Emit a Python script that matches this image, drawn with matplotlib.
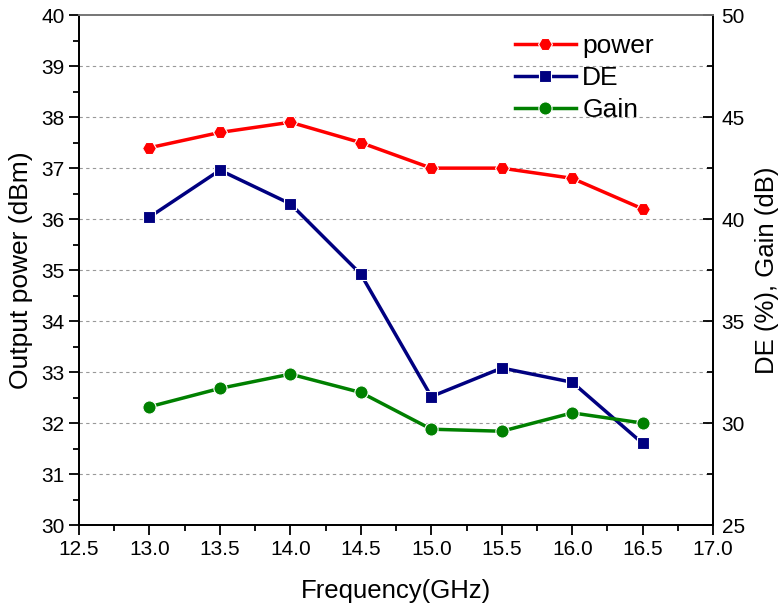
import numpy as np
import matplotlib
matplotlib.use('Agg')
import matplotlib.pyplot as plt
from matplotlib.ticker import MultipleLocator
from matplotlib.lines import Line2D

plt.rcParams['font.family'] = ['Liberation Sans', 'DejaVu Sans']

# data
freq = [13.0, 13.5, 14.0, 14.5, 15.0, 15.5, 16.0, 16.5]
power = [37.4, 37.7, 37.9, 37.5, 37.0, 37.0, 36.8, 36.2]
de = [40.1, 42.4, 40.75, 37.3, 31.3, 32.7, 32.0, 29.0]
gain = [30.8, 31.7, 32.4, 31.5, 29.7, 29.6, 30.5, 30.0]

fig = plt.figure(figsize=(7.82, 6.07), dpi=100)
ax = fig.add_axes([0.101, 0.135, 0.811, 0.84])
ax2 = ax.twinx()

# grid on left axis major ticks
for yv in range(31, 40):
    ax.axhline(yv, color='#999999', ls=(0, (3, 3)), lw=0.8, zorder=0)

mk = dict(markeredgecolor='white', markeredgewidth=0.8, lw=2.5)
ax.plot(freq, power, '-', color='#ff0000', marker='H', markersize=10, **mk, zorder=3)
ax2.plot(freq, de, '-', color='#000080', marker='s', markersize=8.5, **mk, zorder=3)
ax2.plot(freq, gain, '-', color='#008000', marker='o', markersize=9.5, **mk, zorder=3)

ax.set_xlim(12.5, 17.0)
ax.set_ylim(30, 40)
ax2.set_ylim(25, 50)

ax.xaxis.set_major_locator(MultipleLocator(0.5))
ax.xaxis.set_minor_locator(MultipleLocator(0.25))
ax.yaxis.set_major_locator(MultipleLocator(1))
ax.yaxis.set_minor_locator(MultipleLocator(0.5))
ax2.yaxis.set_major_locator(MultipleLocator(5))
ax2.yaxis.set_minor_locator(MultipleLocator(2.5))
ax.xaxis.set_major_formatter(plt.FormatStrFormatter('%.1f'))

ax.tick_params(axis='both', which='major', direction='out', length=7, width=1.3, labelsize=15)
ax.tick_params(axis='both', which='minor', direction='out', length=4, width=1.3)
ax.tick_params(axis='y', right=False)
ax.tick_params(axis='x', top=False)
ax2.tick_params(axis='y', which='major', direction='in', length=7, width=1.3, labelsize=15, pad=6)
ax2.tick_params(axis='y', which='minor', direction='in', length=4, width=1.3)

for a in (ax, ax2):
    a.spines['left'].set_linewidth(1.3)
    a.spines['bottom'].set_linewidth(1.3)
    a.spines['right'].set_linewidth(1.3)
    a.spines['top'].set_color('#777777')
    a.spines['top'].set_linewidth(1.3)

ax.set_xlabel('Frequency(GHz)', fontsize=18.5)
ax.set_ylabel('Output power (dBm)', fontsize=19)
ax2.set_ylabel('DE (%), Gain (dB)', fontsize=18.5)
ax.xaxis.set_label_coords(0.5, -0.105)
ax.yaxis.set_label_coords(-0.073, 0.5)
ax2.yaxis.set_label_coords(1.066, 0.5)

handles = [
    Line2D([], [], color='#ff0000', marker='H', markersize=10, **mk),
    Line2D([], [], color='#000080', marker='s', markersize=8.5, **mk),
    Line2D([], [], color='#008000', marker='o', markersize=9.5, **mk),
]
ax2.legend(handles, ['power', 'DE', 'Gain'], loc='upper left',
           bbox_to_anchor=(515 / 782, (607 - 34) / 607), bbox_transform=fig.transFigure,
           frameon=False, fontsize=19, handlelength=2.3, handletextpad=0.25,
           labelspacing=0.31, borderpad=0, borderaxespad=0)

fig.savefig('out.png', dpi=100)
